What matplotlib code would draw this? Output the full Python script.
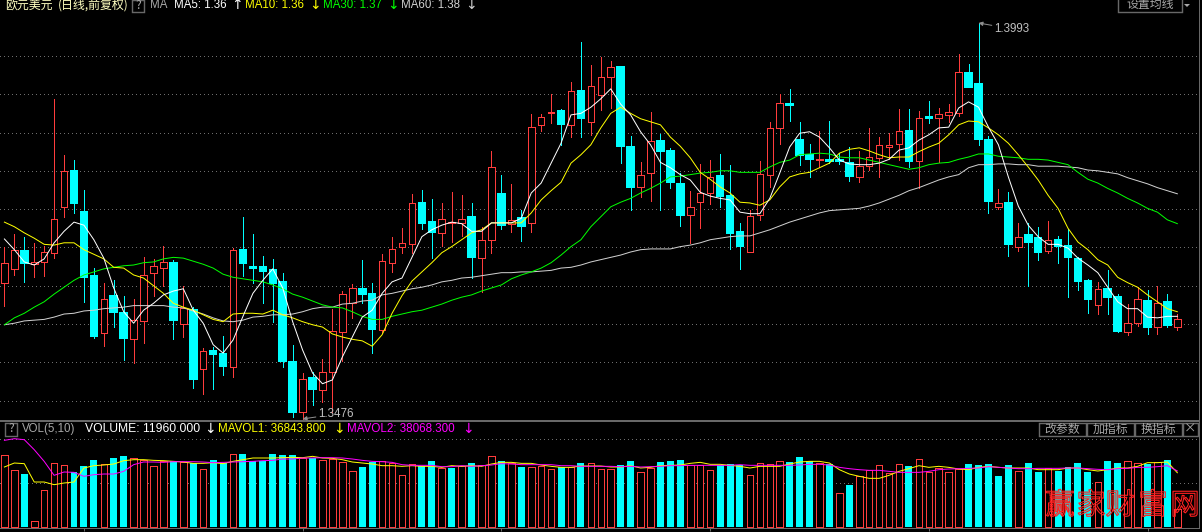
import numpy as np
import matplotlib
matplotlib.use('Agg')
from matplotlib import pyplot as plt
from matplotlib import patheffects as pe
from matplotlib.patches import Rectangle, Polygon

opens = [13654,13672,13695,13678,13681,13693,13753,13800,13746,13663,
         13588,13637,13614,13580,13604,13667,13673,13680,13600,13618,
         13541,13565,13561,13544,13697,13674,13674,13670,13655,13550,
         13485,13529,13514,13537,13590,13627,13646,13639,13592,13680,
         13701,13704,13758,13733,13719,13732,13732,13740,13686,13710,
         13770,13731,13738,13732,13860,13875,13878,13860,13904,13864,
         13899,13922,13936,13831,13779,13797,13839,13826,13783,13742,
         13759,13771,13793,13767,13720,13694,13742,13795,13856,13887,
         13840,13821,13814,13814,13814,13810,13792,13806,13817,13831,
         13835,13852,13813,13870,13869,13873,13875,13928,13913,13840,
         13753,13758,13701,13716,13712,13695,13710,13702,13685,13656,
         13625,13646,13635,13590,13601,13630,13596,13629,13596]
closes = [13680,13697,13680,13681,13694,13737,13800,13758,13661,13584,
          13633,13616,13582,13605,13664,13676,13681,13605,13621,13528,
          13565,13561,13545,13697,13680,13673,13669,13654,13552,13485,
          13528,13515,13537,13591,13639,13647,13639,13593,13682,13698,
          13706,13758,13732,13720,13737,13733,13737,13687,13710,13805,
          13729,13736,13728,13857,13870,13877,13861,13904,13869,13911,
          13922,13936,13832,13779,13795,13839,13826,13785,13742,13753,
          13771,13792,13767,13719,13702,13741,13796,13856,13889,13886,
          13821,13815,13815,13813,13813,13793,13806,13818,13834,13834,
          13852,13813,13869,13869,13874,13877,13929,13909,13842,13761,
          13758,13704,13714,13707,13694,13710,13702,13687,13656,13633,
          13646,13635,13591,13601,13633,13596,13627,13599,13606]
highs = [13701,13718,13714,13706,13702,13894,13821,13814,13775,13673,
         13654,13657,13637,13633,13687,13685,13702,13684,13650,13622,
         13569,13570,13584,13699,13740,13718,13689,13685,13667,13573,
         13536,13537,13554,13620,13643,13652,13684,13654,13691,13714,
         13725,13770,13775,13763,13758,13772,13768,13758,13727,13826,
         13795,13783,13749,13874,13874,13900,13881,13916,13968,13938,
         13949,13943,13936,13845,13811,13877,13848,13830,13797,13774,
         13809,13814,13822,13808,13732,13749,13813,13864,13900,13907,
         13864,13835,13852,13865,13823,13831,13826,13856,13844,13849,
         13881,13881,13878,13891,13882,13887,13952,13939,13993,13845,
         13776,13772,13732,13732,13727,13734,13715,13724,13687,13659,
         13655,13670,13639,13626,13648,13644,13650,13639,13613]
lows = [13624,13664,13655,13661,13663,13686,13740,13745,13629,13582,
        13571,13596,13553,13549,13575,13637,13650,13580,13583,13516,
        13509,13515,13533,13531,13663,13654,13627,13603,13544,13479,
        13476,13494,13498,13485,13552,13608,13627,13562,13588,13668,
        13693,13693,13724,13686,13702,13707,13715,13660,13642,13693,
        13724,13720,13708,13720,13852,13862,13834,13844,13844,13847,
        13879,13882,13810,13749,13766,13761,13749,13778,13728,13706,
        13725,13757,13753,13698,13672,13694,13736,13779,13835,13865,
        13808,13792,13805,13810,13809,13787,13785,13801,13792,13815,
        13814,13805,13778,13862,13811,13864,13872,13909,13834,13745,
        13750,13689,13695,13650,13684,13693,13680,13635,13644,13614,
        13613,13613,13590,13586,13597,13587,13587,13596,13592]

ma5 = [13711,13697,13681,13677,13685,13706,13721,13733,13729,13710,
       13686,13647,13616,13601,13618,13627,13638,13643,13646,13618,
       13601,13573,13562,13579,13610,13640,13657,13672,13647,13603,
       13566,13536,13522,13527,13557,13583,13609,13618,13640,13655,
       13660,13687,13714,13723,13729,13733,13731,13721,13721,13732,
       13732,13732,13738,13771,13784,13810,13836,13873,13875,13883,
       13894,13907,13887,13873,13851,13834,13811,13804,13795,13788,
       13772,13767,13764,13762,13746,13744,13744,13764,13797,13831,
       13849,13851,13844,13830,13814,13809,13808,13808,13810,13815,
       13827,13830,13840,13847,13856,13857,13882,13890,13883,13857,
       13834,13792,13754,13729,13714,13704,13704,13699,13686,13677,
       13667,13648,13629,13620,13620,13609,13608,13610,13610]
ma10 = [13733,13727,13719,13712,13704,13703,13706,13706,13697,13691,
        13685,13674,13673,13664,13660,13650,13640,13627,13622,13618,
        13612,13606,13603,13613,13614,13614,13613,13618,13612,13608,
        13603,13599,13596,13587,13583,13580,13578,13571,13586,13614,
        13637,13656,13668,13680,13693,13701,13710,13719,13723,13732,
        13732,13732,13732,13745,13762,13774,13785,13810,13821,13834,
        13856,13875,13883,13875,13868,13864,13860,13844,13832,13817,
        13798,13789,13779,13771,13759,13758,13755,13762,13779,13792,
        13796,13798,13804,13810,13823,13828,13830,13826,13821,13817,
        13818,13818,13825,13831,13836,13847,13860,13865,13864,13856,
        13847,13836,13821,13805,13788,13768,13751,13725,13707,13697,
        13684,13677,13661,13654,13648,13638,13629,13620,13616]
ma30 = [13599,13608,13614,13622,13629,13639,13648,13657,13664,13668,
        13672,13674,13676,13677,13680,13681,13685,13687,13686,13682,
        13678,13673,13665,13661,13659,13657,13655,13651,13646,13639,
        13635,13630,13625,13622,13621,13616,13610,13606,13606,13610,
        13613,13616,13618,13622,13626,13631,13635,13638,13643,13647,
        13651,13659,13664,13668,13673,13680,13690,13701,13710,13727,
        13740,13753,13759,13764,13771,13777,13784,13792,13793,13795,
        13797,13798,13800,13800,13798,13798,13798,13805,13811,13814,
        13821,13822,13823,13822,13818,13817,13817,13814,13811,13808,
        13805,13802,13804,13808,13810,13811,13815,13818,13822,13822,
        13819,13818,13817,13815,13815,13814,13811,13808,13798,13789,
        13784,13777,13771,13764,13758,13751,13746,13736,13731]
ma60 = [13599,13601,13604,13605,13606,13609,13613,13614,13617,13618,
        13620,13621,13622,13624,13624,13624,13624,13622,13621,13617,
        13613,13608,13604,13603,13605,13609,13610,13612,13612,13613,
        13616,13620,13622,13622,13626,13627,13630,13631,13638,13640,
        13643,13646,13648,13651,13655,13657,13660,13661,13663,13665,
        13667,13667,13668,13668,13669,13670,13673,13674,13677,13681,
        13684,13687,13690,13694,13697,13698,13698,13698,13701,13703,
        13706,13710,13712,13714,13715,13715,13719,13723,13728,13733,
        13737,13741,13745,13748,13749,13750,13751,13754,13758,13763,
        13768,13774,13778,13783,13788,13792,13795,13804,13808,13808,
        13809,13809,13808,13808,13806,13806,13806,13805,13804,13801,
        13800,13798,13796,13791,13787,13783,13778,13774,13770]

volume = [48660,38470,35980,3850,24900,43220,41870,37340,41410,45490,
          42770,46850,48200,46850,45490,41190,44580,44580,43900,43450,
          39380,45490,43450,49560,49560,44580,44580,49560,48880,48880,
          46850,46850,45490,46390,44130,37790,40730,44130,44580,43450,
          35080,42550,41190,44810,40060,40060,41190,43450,42090,48200,
          44810,43450,40730,40730,41190,39380,40730,40730,43450,43450,
          39380,39380,42090,44810,37340,40060,44130,44810,45490,42090,
          42090,38700,42090,42770,42090,35300,43450,42770,44810,44130,
          47520,44580,43450,42770,23080,28510,34400,38470,42090,36660,
          42770,41410,46170,37110,40060,37340,39600,42770,42090,42770,
          34620,42090,38020,43450,37340,40060,38020,40730,43450,37340,
          30550,44810,43450,44810,43450,42770,44130,45490,11960]
mavol1 = [40730,43450,43000,30550,30550,28740,29870,30550,40060,41640,
          42090,42770,45030,45710,45710,45260,45030,44580,44130,43220,
          43220,43680,43000,44580,45710,46850,46850,46850,47070,47300,
          47070,47980,46850,46620,45710,44130,43450,42770,41640,41640,
          41190,41640,41190,41190,40510,41640,41190,41640,41190,42770,
          43900,43900,43220,43220,42090,41190,40510,40510,41410,41410,
          41410,40730,40730,41640,40060,40510,41640,41870,42090,43220,
          43900,42550,42550,41870,41190,40060,41190,41190,41190,42770,
          44130,44580,44580,43450,38920,35980,34400,33040,33040,35080,
          37790,39600,41640,40510,41190,40510,39380,38920,40510,41190,
          40510,40060,40060,40060,38920,38920,38920,40060,40060,38920,
          38020,38920,40060,40060,41190,43680,43680,44130,36843]
mavol2 = [58840,59970,59290,52500,44580,35080,37340,37110,34400,35530,
          35980,35980,37790,42320,44130,44130,43900,44350,44350,44350,
          44130,43680,43900,44130,44350,44580,45030,45260,46170,46170,
          46850,46850,47070,47070,46850,46170,45260,44580,44350,43900,
          42320,41870,41870,41870,40960,40960,41640,41190,41640,42090,
          43000,42770,42320,42320,42320,42320,41640,41640,41190,41190,
          41190,41190,40960,41190,40730,40960,41190,41640,41640,41870,
          41870,41870,41870,41870,42320,41870,41870,41870,41870,41870,
          42090,42550,42550,42090,40510,39600,38920,38470,38470,37790,
          37110,37110,37110,37790,38920,39380,39600,39830,40060,40960,
          40510,40060,39600,39600,39830,39830,39830,40060,40060,39600,
          39150,38920,39600,39830,40510,40510,40960,41640,38068]
# volume bars whose colour differs from their candle
vol_flip = [45, 84, 93, 100]

RED = '#FF3C3C'
CYAN = '#00FFFF'
FRAME = '#686868'
GRID = '#6E6E6E'
GRAY = '#C0C0C0'
CJK = ['Noto Sans CJK SC', 'DejaVu Sans']
SANS = 'Liberation Sans'
LW = 0.72  # one pixel at dpi 100

opens, closes, highs, lows = [np.array(a) / 10000 for a in (opens, closes, highs, lows)]
x = np.arange(len(opens))
up = closes >= opens
vol_up = up.copy()
vol_up[vol_flip] = ~vol_up[vol_flip]

W, H = 1202, 532
fig = plt.figure(figsize=(W / 100, H / 100), dpi=100, facecolor='black')

# both panels end at x=1199, top panel down to y=420, volume panel 421-528
xlim = (-0.443, 120.18)
ax = fig.add_axes([0, (H - 420) / H, 1199 / W, 420 / H], facecolor='black')
ax2 = fig.add_axes([0, (H - 528) / H, 1199 / W, 107 / H], facecolor='black')

ax.set_xlim(*xlim)
ax.set_ylim(1.4023 - 420 * 0.00013056, 1.4023)
ax.set_yticks(np.arange(1.35, 1.3951, 0.005))
ax.set_xticks([])
ax.tick_params(length=0, labelleft=False)
ax.yaxis.grid(True, color=GRID, linewidth=LW, linestyle=(0, (1, 4)), antialiased=False, zorder=0)
ax.set_axisbelow(True)

# candles: wick first, body on top so hollow bodies hide it
ax.vlines(x[up], lows[up], highs[up], color=RED, linewidth=LW, antialiased=False, zorder=2)
ax.vlines(x[~up], lows[~up], highs[~up], color=CYAN, linewidth=LW, antialiased=False, zorder=2)
bottoms = np.minimum(opens, closes)
sizes = np.abs(closes - opens)
ax.bar(x[up], sizes[up], bottom=bottoms[up], width=0.66, facecolor='black', edgecolor=RED,
       linewidth=LW, antialiased=False, zorder=3)
ax.bar(x[~up], sizes[~up], bottom=bottoms[~up], width=0.66, facecolor=CYAN, edgecolor=CYAN,
       linewidth=0.3, antialiased=False, zorder=3)

for vals, col in [(ma60, '#D0D0D0'), (ma30, '#00FF00'), (ma10, '#FFFF00'), (ma5, '#FFFFFF')]:
    ax.plot(x, np.array(vals) / 10000, color=col, linewidth=LW, zorder=4)

arrow = dict(arrowstyle='-|>', color='#909090', lw=LW, shrinkA=0, shrinkB=0, mutation_scale=6)
ax.annotate('1.3993', xy=(98, highs[98]), xytext=(16, -6), textcoords='offset pixels',
            color=GRAY, fontsize=8.4, family=SANS, va='center', arrowprops=arrow, zorder=5)
ax.annotate('1.3476', xy=(30, lows[30]), xytext=(16, 5), textcoords='offset pixels',
            color=GRAY, fontsize=8.4, family=SANS, va='center', arrowprops=arrow, zorder=5)

# volume panel
ax2.set_xlim(*xlim)
ax2.set_ylim(-679, 106 * 679)
ax2.set_yticks([30000, 60000])
ax2.set_xticks([8, 30, 50, 71, 93, 115])
ax2.tick_params(axis='x', length=2.2, width=LW, color=FRAME, labelbottom=False)
ax2.tick_params(axis='y', length=0, labelleft=False)
ax2.yaxis.grid(True, color=GRID, linewidth=LW, linestyle=(0, (1, 4)), antialiased=False, zorder=0)
ax2.set_axisbelow(True)

volume = np.array(volume)
ax2.bar(x[vol_up], volume[vol_up], width=0.66, facecolor='black', edgecolor=RED,
        linewidth=LW, antialiased=False, zorder=2)
ax2.bar(x[~vol_up], volume[~vol_up], width=0.7, color=CYAN, antialiased=False, zorder=2)
ax2.plot(x, mavol1, color='#FFFF00', linewidth=LW, zorder=3)
ax2.plot(x, mavol2, color='#FF00FF', linewidth=LW, zorder=3)

for a in (ax, ax2):
    a.spines['left'].set_visible(False)
    for s in ('top', 'right', 'bottom'):
        a.spines[s].set_color(FRAME)
        a.spines[s].set_linewidth(LW)
ax.spines['top'].set_visible(False)

# overlay in pixel coordinates for header texts, buttons and watermark
ui = fig.add_axes([0, 0, 1, 1], facecolor='none')
ui.set_xlim(0, W)
ui.set_ylim(H, 0)
ui.axis('off')


def label(px, py, s, col, size=8.3, family=SANS, **kw):
    ui.text(px, py, s, color=col, fontsize=size, family=family, va='center', ha='left', **kw)


def button(x0, y0, x1, y1, s, size=8.6):
    ui.add_patch(Rectangle((x0, y0), x1 - x0, y1 - y0, fill=False, edgecolor=FRAME, linewidth=LW + 0.3))
    ui.text((x0 + x1) / 2, (y0 + y1) / 2 - 0.5, s, color='#A8A8A8', fontsize=size, family=CJK,
            ha='center', va='center')


# top header
label(5, 5, '欧元美元', '#FFFFC0', 8.6, CJK)
label(58, 5, '(日线,前复权)', '#FFFFC0', 8.6, CJK)
button(132, 0, 144, 12, '?', 8.6)
label(150, 5, 'MA', '#A8A8A8')
label(174, 5, 'MA5: 1.36', '#FFFFFF')
label(231, 5, '↑', '#FFFFFF', 10, 'DejaVu Sans')
label(245, 5, 'MA10: 1.36', '#FFFF00')
label(309, 5, '↓', '#FFFF00', 10, 'DejaVu Sans')
label(323, 5, 'MA30: 1.37', '#00FF00')
label(387, 5, '↓', '#00FF00', 10, 'DejaVu Sans')
label(401, 5, 'MA60: 1.38', '#D0D0D0')
label(465, 5, '↓', '#D0D0D0', 10, 'DejaVu Sans')
button(1118, -2, 1182, 12, '设置均线')
ui.add_patch(Polygon([(1184, 4), (1190, 4), (1187, 7)], closed=True, facecolor='#A8A8A8', edgecolor='none'))

# volume header
button(5, 423, 17, 436, '?', 8.6)
label(22, 429, 'VOL(5,10)', '#A8A8A8', 8.3)
label(85, 429, 'VOLUME: 11960.000', '#FFFFFF', 8.7)
label(204, 429, '↓', '#FFFFFF', 10, 'DejaVu Sans')
label(218, 429, 'MAVOL1: 36843.800', '#FFFF00', 8.4)
label(333, 429, '↓', '#FFFF00', 10, 'DejaVu Sans')
label(347, 429, 'MAVOL2: 38068.300', '#FF00FF', 8.4)
label(462, 429, '↓', '#FF00FF', 10, 'DejaVu Sans')
button(1039, 423, 1086, 436, '改参数')
button(1087, 423, 1134, 436, '加指标')
button(1135, 423, 1182, 436, '换指标')
button(1183, 423, 1198, 436, '×', 9)

# watermark
for cx, ch in zip([1060, 1091, 1120, 1153, 1185], '赢家财富网'):
    t = ui.text(cx, 506, ch, color='none', fontsize=21, family=CJK, ha='center', va='center')
    t.set_path_effects([pe.Stroke(linewidth=0.8, foreground='#FF2020')])

fig.savefig('out.png', dpi=100, facecolor='black')
